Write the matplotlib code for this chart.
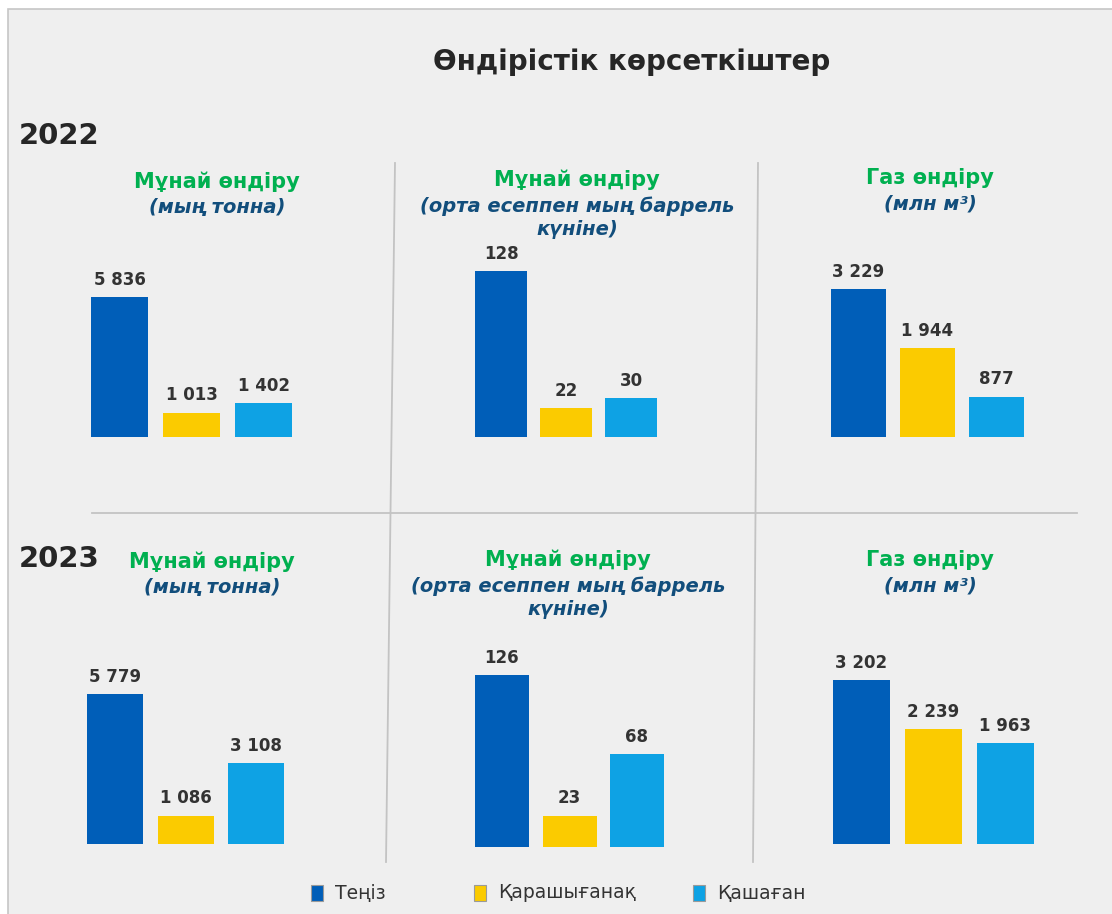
import matplotlib
matplotlib.use("Agg")
import matplotlib.pyplot as plt
from matplotlib.patches import Rectangle
from matplotlib.lines import Line2D

# data
fields = ["Теңіз", "Қарашығанақ", "Қашаған"]
colors = ["#005EB8", "#FBCB00", "#0EA2E4"]

oil_kt_2022 = [5836, 1013, 1402]
oil_kbd_2022 = [128, 22, 30]
gas_2022 = [3229, 1944, 877]
oil_kt_2023 = [5779, 1086, 3108]
oil_kbd_2023 = [126, 23, 68]
gas_2023 = [3202, 2239, 1963]

titles = ["Мұнай өндіру", "Мұнай өндіру", "Газ өндіру"]
subtitles = ["(мың тонна)", "(орта есеппен мың баррель\nкүніне)", "(млн м³)"]

W, H = 1112, 914
fig = plt.figure(figsize=(W / 100, H / 100), dpi=100)
fig.patch.set_facecolor("white")

def fx(px):
    return px / W

def fy(py):
    return 1 - py / H

# gray card behind everything (runs off the right and bottom edges)
fig.patches.append(Rectangle((fx(8), -0.05), 1.1, fy(9) + 0.05, transform=fig.transFigure,
                             fc="#efefef", ec="#c6c6c6", lw=1.2, zorder=-10))

fig.text(fx(632), fy(62), "Өндірістік көрсеткіштер", ha="center", va="center",
         fontsize=20, fontweight="bold", color="#262626")
fig.text(fx(19), fy(136), "2022", ha="left", va="center", fontsize=21,
         fontweight="bold", color="#262626")
fig.text(fx(19), fy(559), "2023", ha="left", va="center", fontsize=21,
         fontweight="bold", color="#262626")

# separator lines
for (x1, y1, x2, y2) in [(395, 163, 386, 862), (758, 163, 753, 862), (92, 513, 1077, 513)]:
    fig.lines.append(Line2D([fx(x1), fx(x2)], [fy(y1), fy(y2)], transform=fig.transFigure,
                            color="#c3c3c3", lw=1.3))

# panel layout: first bar left px, step px, bar width px, baseline px, height px of tallest bar
panels = [
    (oil_kt_2022, 0, 91, 72, 57, 437, 140, 217, 182),
    (oil_kbd_2022, 1, 475, 65, 52, 437, 166, 577, 180),
    (gas_2022, 2, 831, 69, 55, 437, 148, 930, 178),
    (oil_kt_2023, 0, 87, 70.5, 56, 844, 150, 212, 562),
    (oil_kbd_2023, 1, 475, 67.5, 54, 847, 172, 568, 560),
    (gas_2023, 2, 833, 72, 56.5, 844, 164, 930, 560),
]

for vals, kind, x0, step, bw, base, hmax, tx, ty in panels:
    ax_h = 230
    left = x0 - (step - bw) / 2
    ax = fig.add_axes([fx(left), fy(base), fx(3 * step), ax_h / H])
    ax.set_facecolor("none")
    xs = range(len(vals))
    ax.bar(xs, vals, width=bw / step, color=colors)
    ax.set_xlim(-0.5, 2.5)
    ax.set_ylim(0, max(vals) * ax_h / hmax)
    ax.axis("off")
    for x, v in zip(xs, vals):
        ax.annotate(f"{v:,}".replace(",", " "), (x, v), xytext=(0, 6),
                    textcoords="offset points", ha="center", va="bottom",
                    fontsize=12, fontweight="bold", color="#333333")
    fig.text(fx(tx), fy(ty), titles[kind], ha="center", va="center",
             fontsize=15, fontweight="bold", color="#00B050")
    fig.text(fx(tx), fy(ty + 16), subtitles[kind], ha="center", va="top",
             fontsize=14, fontweight="bold", fontstyle="italic", color="#124E7C",
             linespacing=1.3)

# legend
leg_x = [311, 474, 693]
for name, c, lx in zip(fields, colors, leg_x):
    fig.patches.append(Rectangle((fx(lx), fy(901)), 12 / W, 16 / H, transform=fig.transFigure,
                                 fc=c, ec="#9a9a9a", lw=0.8))
    fig.text(fx(lx + 24), fy(893), name, ha="left", va="center", fontsize=13.5,
             color="#333333")

fig.savefig("out.png", dpi=100, facecolor=fig.get_facecolor())
